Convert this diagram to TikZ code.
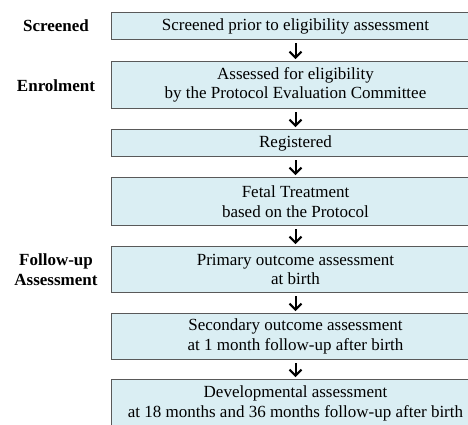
\documentclass[tikz,border=0pt]{standalone}
\usepackage{fontspec}
\setmainfont{Liberation Serif}
\usetikzlibrary{arrows.meta}
\definecolor{boxfill}{HTML}{DAEEF3}
\definecolor{boxline}{HTML}{595959}
\tikzset{
  stage/.style={draw=boxline,fill=boxfill,line width=1pt,minimum width=368pt,
    align=center,anchor=north west,inner sep=0pt,font=\fontsize{17}{19.5}\selectfont},
  phase/.style={align=center,font=\bfseries\fontsize{17}{20}\selectfont},
  flow/.style={-{Straight Barb[length=6pt,width=12pt,line width=2pt]},line width=2pt,
    shorten <=3pt,shorten >=2pt}
}
\begin{document}
\begin{tikzpicture}[x=1pt,y=-1pt]
\clip (0,0) rectangle (468,424);
% study steps
\node[stage,minimum height=27pt] (s1) at (111,12) {Screened prior to eligibility assessment};
\node[stage,minimum height=47pt] (s2) at (111,61) {Assessed for eligibility\\by the Protocol Evaluation Committee};
\node[stage,minimum height=27pt] (s3) at (111,129) {Registered};
\node[stage,minimum height=48pt] (s4) at (111,177) {Fetal Treatment\\based on the Protocol};
\node[stage,minimum height=46pt] (s5) at (111,246) {Primary outcome assessment\\at birth};
\node[stage,minimum height=46pt] (s6) at (111,313) {Secondary outcome assessment\\at 1 month follow-up after birth};
\node[stage,minimum height=48pt] (s7) at (111,379) {Developmental assessment\\at 18 months and 36 months follow-up after birth};
% phases
\node[phase] (screened) at (56,26) {Screened};
\node[phase] (enrol) at (56,86) {Enrolment};
\node[phase] (follow) at (56,270) {Follow-up\\Assessment};
% arrows
\draw[flow] (s1) -- (s2);
\draw[flow] (s2) -- (s3);
\draw[flow] (s3) -- (s4);
\draw[flow] (s4) -- (s5);
\draw[flow] (s5) -- (s6);
\draw[flow] (s6) -- (s7);
\end{tikzpicture}
\end{document}
